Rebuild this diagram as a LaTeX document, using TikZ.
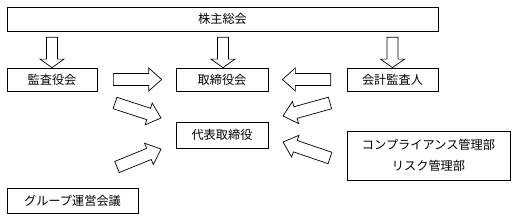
\documentclass[tikz,border=0pt]{standalone}
\usepackage{fontspec}
\newfontfamily\jp{Noto Sans CJK JP}
\usetikzlibrary{calc}
\tikzset{
  box/.style={draw, line width=0.7pt, fill=white, inner sep=0pt, align=center,
    font=\jp\fontsize{12.2}{21}\selectfont},
  barrowline/.style={draw, line width=0.7pt, fill=white, line join=miter}
}
% start, end, shaft half width, head half width, head length
\newcommand\blockarrow[5]{%
  \coordinate (ba-h) at ($(#2)!#5!(#1)$);
  \draw[barrowline] ($(#1)!#3!90:(#2)$) -- ($(ba-h)!#3!90:(#2)$) -- ($(ba-h)!#4!90:(#2)$) -- (#2)
    -- ($(ba-h)!#4!-90:(#2)$) -- ($(ba-h)!#3!-90:(#2)$) -- ($(#1)!#3!-90:(#2)$) -- cycle;
}
\begin{document}
\begin{tikzpicture}[x=1pt, y=-1pt]
\useasboundingbox (0,0) rectangle (513,219);
\node[box, minimum width=431pt, minimum height=24pt] (top) at (222.5,19) {株主総会};
\node[box, minimum width=90pt, minimum height=23pt] (kansa) at (52,79.5) {監査役会};
\node[box, minimum width=92pt, minimum height=23pt] (tori) at (222,79.5) {取締役会};
\node[box, minimum width=91pt, minimum height=23pt] (kaikei) at (392.5,79.5) {会計監査人};
\node[box, minimum width=92pt, minimum height=26pt] (daihyo) at (222,135) {代表取締役};
\node[box, minimum width=163pt, minimum height=49pt] (comp) at (428.5,155.5) {コンプライアンス管理部\\リスク管理部};
\node[box, minimum width=131pt, minimum height=25pt] (group) at (72.5,200.5) {グループ運営会議};
% down arrows
\coordinate (d1s) at ($(kansa.north |- top.south)+(0,6)$);
\coordinate (d2s) at ($(tori.north |- top.south)+(1,6)$);
\coordinate (d2e) at ($(tori.north)+(1,0)$);
\coordinate (d3s) at ($(kaikei.north |- top.south)+(0,6)$);
\blockarrow{d1s}{kansa.north}{5.5pt}{12pt}{8.5pt}
\blockarrow{d2s}{d2e}{5.5pt}{12pt}{8.5pt}
\blockarrow{d3s}{kaikei.north}{5.5pt}{12pt}{8.5pt}
% horizontal arrows
\coordinate (h1s) at ($(kansa.east)+(16,0)$);
\coordinate (h1e) at ($(tori.west)+(-14,0)$);
\coordinate (h2s) at ($(kaikei.west)+(-16,0)$);
\coordinate (h2e) at ($(tori.east)+(14,0)$);
\blockarrow{h1s}{h1e}{6pt}{11.5pt}{13pt}
\blockarrow{h2s}{h2e}{6pt}{11.5pt}{13pt}
% diagonal arrows
\coordinate (g1s) at (115,103);
\coordinate (g1e) at (161,118);
\coordinate (g2s) at (117,167);
\coordinate (g2e) at (161,149);
\coordinate (g3s) at (330,103);
\coordinate (g3e) at (283,116);
\coordinate (g4s) at (330,158);
\coordinate (g4e) at (283,142);
\blockarrow{g1s}{g1e}{6pt}{11.5pt}{13pt}
\blockarrow{g2s}{g2e}{6pt}{11.5pt}{13pt}
\blockarrow{g3s}{g3e}{6pt}{11.5pt}{13pt}
\blockarrow{g4s}{g4e}{6pt}{11.5pt}{13pt}
\end{tikzpicture}
\end{document}
